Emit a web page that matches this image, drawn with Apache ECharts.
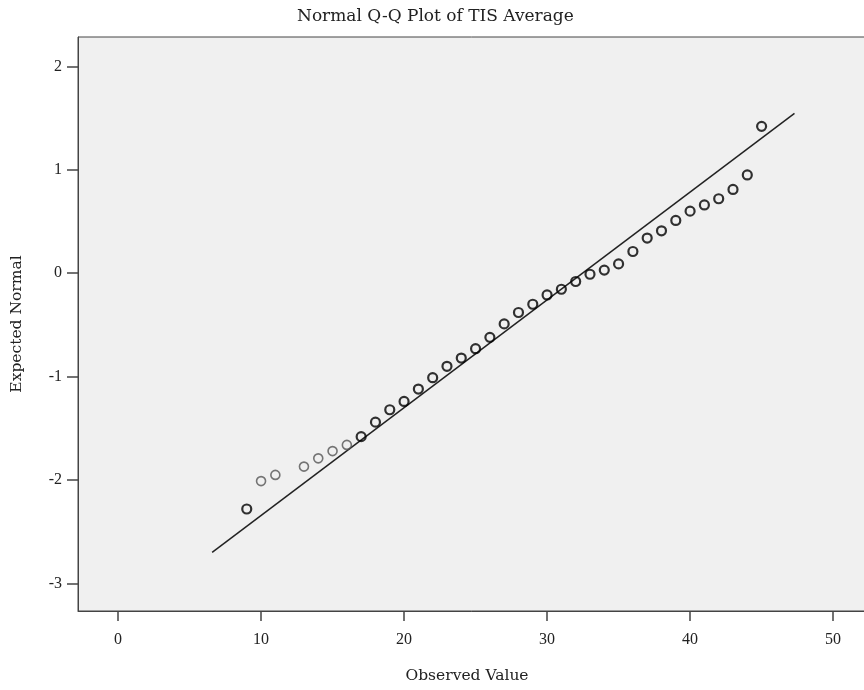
<!DOCTYPE html>
<html>
<head>
<meta charset="utf-8">
<script src="https://cdn.jsdelivr.net/npm/echarts@6/dist/echarts.min.js"></script>
<style>html,body{margin:0;padding:0;background:#fff}#c{width:864px;height:690px}</style>
</head>
<body>
<div id="c"></div>
<script>
var observedValues = [9,10,11,13,14,15,16,17,18,19,20,21,22,23,24,25,26,27,28,29,30,31,32,33,34,35,36,37,38,39,40,41,42,43,44,45];
var expectedNormal = [-2.28,-2.01,-1.95,-1.87,-1.79,-1.72,-1.66,-1.58,-1.44,-1.32,-1.24,-1.12,-1.01,-0.90,-0.82,-0.73,-0.62,-0.49,-0.38,-0.30,-0.21,-0.155,-0.08,-0.01,0.03,0.09,0.21,0.34,0.41,0.51,0.60,0.66,0.72,0.81,0.95,1.42];
// points with lighter (single-case) rendering
var lightPoints = [10,11,13,14,15,16];
var refLineX = [6.58, 47.3];
var refLineY = [-2.70, 1.546];
var xTicks = [0,10,20,30,40,50];
var yTicks = [-3,-2,-1,0,1,2];

var font = 'Liberation Serif';
var nameFont = 'DejaVu Serif';
var pts = observedValues.map(function(x,i){
  var light = lightPoints.indexOf(x) >= 0;
  return {value:[x, expectedNormal[i]], itemStyle:{borderColor: light ? '#555' : '#000', borderWidth: light ? 1.6 : 2.2}};
});
var chart = echarts.init(document.getElementById('c'), null, {renderer:'canvas'});
chart.setOption({
  animation:false,
  backgroundColor:'#fff',
  title:{text:'Normal Q-Q Plot of TIS Average', left:292, top:3,
    textStyle:{fontFamily:nameFont, fontSize:17, fontWeight:'normal', color:'#222'}},
  grid:{left:78, top:37, right:-2, bottom:79, outerBoundsMode:'none', containLabel:false,
    show:true, backgroundColor:'#f0f0f0', borderColor:'#444', borderWidth:1},
  xAxis:{type:'value', min:-2.8, max:52.3,
    name:'Observed Value', nameLocation:'middle', nameGap:57,
    nameTextStyle:{fontFamily:nameFont, fontSize:15.5, color:'#222', padding:[0,10,0,0]},
    splitLine:{show:false},
    axisLine:{show:true, onZero:false, lineStyle:{color:'#444', width:1}},
    axisTick:{show:true, length:10, customValues:xTicks, lineStyle:{color:'#444', width:1.5}},
    axisLabel:{customValues:xTicks, fontFamily:font, fontSize:16, color:'#222', margin:21}},
  yAxis:{type:'value', min:-3.266, max:2.284,
    name:'Expected Normal', nameLocation:'middle', nameGap:53, nameRotate:90,
    nameTextStyle:{fontFamily:nameFont, fontSize:15.5, color:'#222'},
    splitLine:{show:false},
    axisLine:{show:true, onZero:false, lineStyle:{color:'#444', width:1}},
    axisTick:{show:true, length:11, customValues:yTicks, lineStyle:{color:'#444', width:1.5}},
    axisLabel:{customValues:yTicks, fontFamily:font, fontSize:16, color:'#222', margin:16}},
  series:[
    {type:'line', data:refLineX.map(function(x,i){return [x, refLineY[i]];}),
      symbol:'none', lineStyle:{color:'#222', width:1.5}, z:2},
    {type:'scatter', data:pts, symbol:'circle', symbolSize:9,
      itemStyle:{color:'rgba(0,0,0,0)'}, z:3}
  ]
});
</script>
</body>
</html>
